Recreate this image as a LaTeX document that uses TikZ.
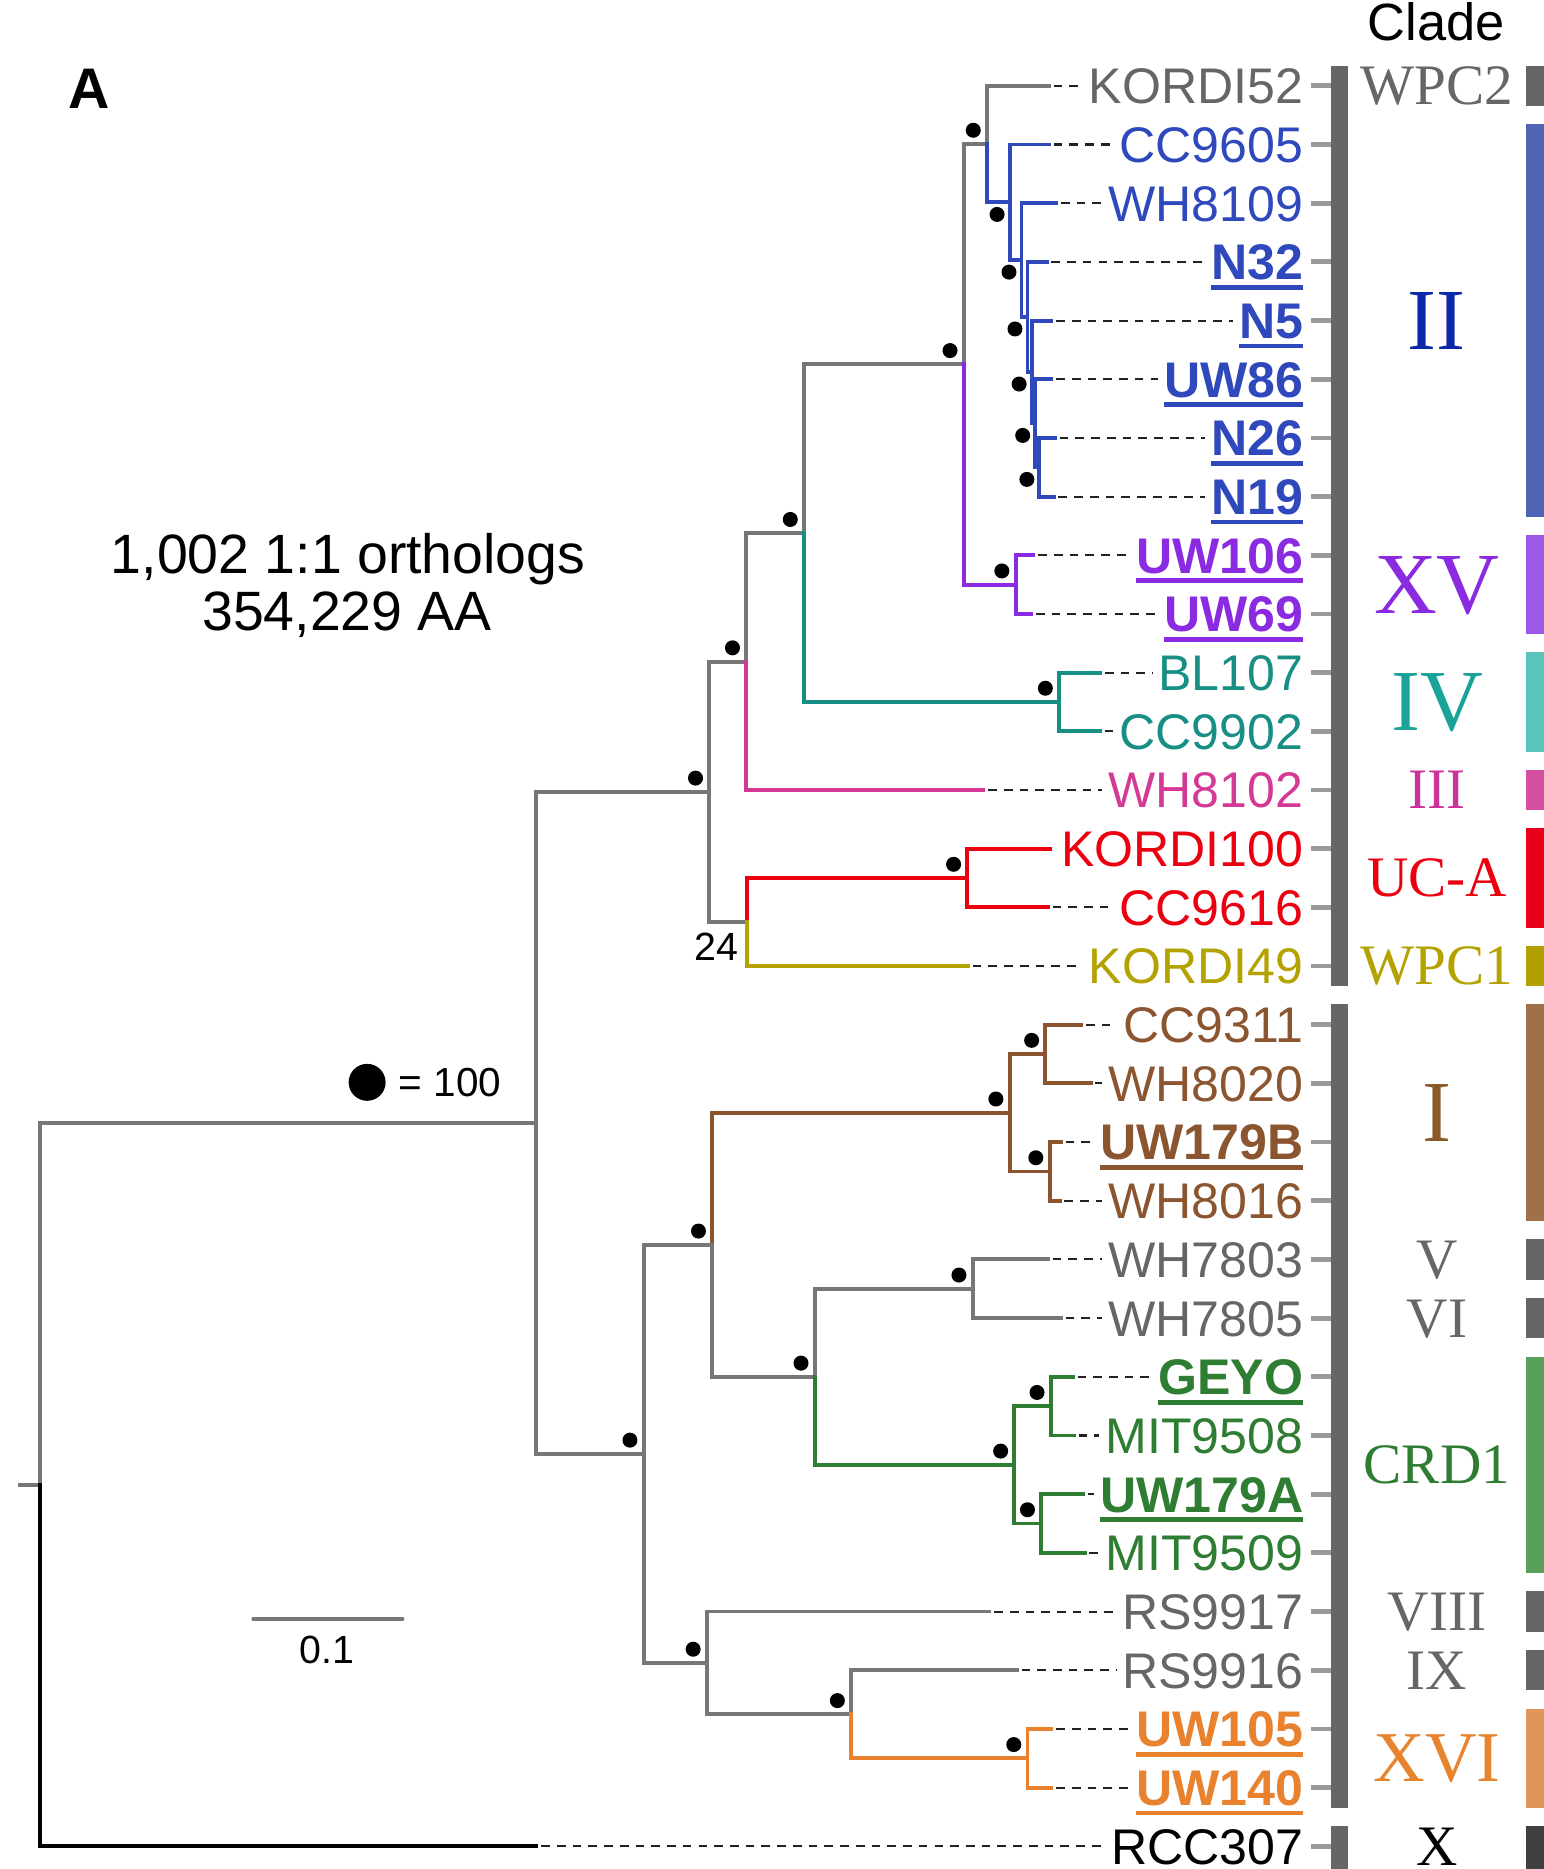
\documentclass[tikz,border=0pt]{standalone}
\usepackage{fontspec}
\setmainfont{Liberation Sans}
\newfontfamily\cladeserif{Liberation Serif}
\usetikzlibrary{calc}
\definecolor{cgrayb}{HTML}{777777}
\definecolor{cgrayt}{HTML}{666666}
\definecolor{cblue}{HTML}{2F49BD}
\definecolor{cpurple}{HTML}{8A2BE2}
\definecolor{cteal}{HTML}{178F85}
\definecolor{cmag}{HTML}{D43A95}
\definecolor{cred}{HTML}{EC0010}
\definecolor{colive}{HTML}{B4A200}
\definecolor{cbrown}{HTML}{8B5530}
\definecolor{cgreen}{HTML}{2E7D32}
\definecolor{corange}{HTML}{E8822E}
\definecolor{cII}{HTML}{0A28A8}
\definecolor{cIV}{HTML}{1AA399}
\definecolor{cIII}{HTML}{CC3399}
\definecolor{cI}{HTML}{8B5A2B}
\definecolor{cXVI}{HTML}{E8842F}
\definecolor{bgray}{HTML}{666666}
\definecolor{bII}{HTML}{5064B4}
\definecolor{bXV}{HTML}{9B59E5}
\definecolor{bIV}{HTML}{58C4BC}
\definecolor{bIII}{HTML}{D450A0}
\definecolor{bUCA}{HTML}{E8001A}
\definecolor{bWPC}{HTML}{B0A000}
\definecolor{bI}{HTML}{A0704A}
\definecolor{bCRD}{HTML}{5AA05A}
\definecolor{bXVI}{HTML}{E0965A}
\definecolor{bX}{HTML}{404040}
\definecolor{ctick}{HTML}{9A9A9A}
\definecolor{cdash}{HTML}{222222}
\begin{document}
\begin{tikzpicture}[x=1pt,y=-1pt,
  br/.style={line width=3.3pt, line cap=rect, line join=miter},
  dashline/.style={line width=1.7pt, cdash, dash pattern=on 7.3pt off 5.9pt, shorten <=4pt, shorten >=5pt},
  tickmark/.style={line width=4pt, ctick},
  leaflabel/.style={inner sep=0pt, anchor=base east, font=\fontsize{42}{42}\selectfont},
  boldleaf/.style={inner sep=0pt, anchor=base east, font=\fontsize{42}{42}\selectfont\bfseries},
  plain/.style={inner sep=0pt, anchor=base},
]
\fill[white] (0,0) rectangle (1295,1568);
\useasboundingbox (0,0) rectangle (1295,1568);

% main grey bars
\fill[bgray] (1117,55) rectangle (1131,827.5);
\fill[bgray] (1117,842.7) rectangle (1131,1516.7);
\fill[bgray] (1117,1531.9) rectangle (1131,1570);

% leaves
\foreach \nm/\ix/\ex/\tc/\bo/\da in {
 KORDI52/0/880/cgrayt/0/1, CC9605/1/880/cblue/0/1, WH8109/2/886/cblue/0/1,
 N32/3/878/cblue/1/1, N5/4/882/cblue/1/1, UW86/5/882/cblue/1/1,
 N26/6/885/cblue/1/1, N19/7/884/cblue/1/1, UW106/8/867/cpurple/1/1,
 UW69/9/865/cpurple/1/1, BL107/10/923/cteal/0/1, CC9902/11/923/cteal/0/1,
 WH8102/12/825/cmag/0/1, KORDI100/13/881/cred/0/0, CC9616/14/879/cred/0/1,
 KORDI49/15/812/colive/0/1, CC9311/16/907/cbrown/0/1, WH8020/17/915/cbrown/0/1,
 UW179B/18/890/cbrown/1/1, WH8016/19/889/cbrown/0/1, WH7803/20/879/cgrayt/0/1,
 WH7805/21/890/cgrayt/0/1, GEYO/22/900/cgreen/1/1, MIT9508/23/901/cgreen/0/1,
 UW179A/24/909/cgreen/1/1, MIT9509/25/910/cgreen/0/1, RS9917/26/830/cgrayt/0/1,
 RS9916/27/853/cgrayt/0/1, UW105/28/882/corange/1/1, UW140/29/882/corange/1/1,
 RCC307/30/450/black/0/1}{
  \pgfmathsetmacro\yy{72+49.23*\ix}
  \coordinate (e\nm) at (\ex,\yy);
  \ifnum\bo=1
    \node[boldleaf, text=\tc] (l\nm) at (1093.5,\yy+15) {\nm};
    \draw[line width=4pt, \tc] ([yshift=-6.3pt]l\nm.base west) -- ([yshift=-6.3pt]l\nm.base east);
  \else
    \node[leaflabel, text=\tc] (l\nm) at (1093.5,\yy+15) {\nm};
  \fi
  \draw[tickmark] (1100,\yy) -- (1117,\yy);
  \ifnum\da=1 \draw[dashline] (e\nm) -- (l\nm.west |- e\nm); \fi
}

% clade labels and bars
\foreach \lab/\fa/\la/\tc/\bc/\sz in {
 WPC2/0/0/cgrayt/bgray/48, II/1/7/cII/bII/73, XV/8/9/cpurple/bXV/73,
 IV/10/11/cIV/bIV/73, III/12/12/cIII/bIII/48, UC-A/13/14/cred/bUCA/48,
 WPC1/15/15/colive/bWPC/48, I/16/19/cI/bI/73, V/20/20/cgrayt/bgray/48,
 VI/21/21/cgrayt/bgray/48, CRD1/22/25/cgreen/bCRD/48, VIII/26/26/cgrayt/bgray/48,
 IX/27/27/cgrayt/bgray/48, XVI/28/29/cXVI/bXVI/60, X/30/30/black/bX/48}{
  \pgfmathsetmacro\ya{72+49.23*\fa-17}
  \pgfmathsetmacro\yb{72+49.23*\la+17}
  \pgfmathsetmacro\ym{72+49.23*(\fa+\la)/2+0.331*\sz}
  \node[plain, text=\tc, font=\cladeserif\fontsize{\sz}{\sz}\selectfont] (cl\fa) at (1205.5,\ym) {\lab};
  \fill[\bc] (1280,\ya) rectangle (1296,\yb);
}
\fill[bX] (1280,1560) rectangle (1296,1570);

% internal nodes
\coordinate (nO) at (872,392.0);
\coordinate (nN) at (868.5,355.1);
\coordinate (nM) at (865.5,312.0);
\coordinate (nL) at (862,265.8);
\coordinate (nK) at (857,218.1);
\coordinate (nJ) at (847,169.7);
\coordinate (nH) at (828,120.8);
\coordinate (nXV) at (852,490.5);
\coordinate (nG) at (808.5,305.6);
\coordinate (nIV) at (888.5,588.9);
\coordinate (nF) at (674.5,447.3);
\coordinate (nD) at (626,555.0);
\coordinate (nUCA) at (811.5,736.6);
\coordinate (nE) at (627,773.5);
\coordinate (nB) at (595,664.3);
\coordinate (nT) at (877,884.3);
\coordinate (nU) at (880.5,982.8);
\coordinate (nR) at (847,933.5);
\coordinate (nV) at (816,1081.2);
\coordinate (nX) at (881.5,1179.7);
\coordinate (nY) at (873.5,1278.1);
\coordinate (nW) at (851,1228.9);
\coordinate (nS) at (683.5,1155.1);
\coordinate (nP) at (597.5,1044.3);
\coordinate (nXVI) at (862,1475.1);
\coordinate (nZ) at (714,1438.2);
\coordinate (nQ) at (593,1395.1);
\coordinate (nC) at (540,1219.7);
\coordinate (nA) at (449.5,942.0);
\coordinate (root) at (33.7,1245.5);
\coordinate (stub) at (16.7,1245.5);

% branches
\draw[br,cgrayb] (stub) -- (root);
\draw[br,cgrayb] (root) |- (nA);
\draw[br,black] (root) |- (eRCC307);
\draw[br,cgrayb] (nA) |- (nB);
\draw[br,cgrayb] (nA) |- (nC);
\draw[br,cgrayb] (nB) |- (nD);
\draw[br,cgrayb] (nB) |- (nE);
\draw[br,cgrayb] (nD) |- (nF);
\draw[br,cmag] (nD) |- (eWH8102);
\draw[br,cgrayb] (nF) |- (nG);
\draw[br,cteal] (nF) |- (nIV);
\draw[br,cteal] (nIV) |- (eBL107);
\draw[br,cteal] (nIV) |- (eCC9902);
\draw[br,cgrayb] (nG) |- (nH);
\draw[br,cpurple] (nG) |- (nXV);
\draw[br,cpurple] (nXV) |- (eUW106);
\draw[br,cpurple] (nXV) |- (eUW69);
\draw[br,cgrayb] (nH) |- (eKORDI52);
\draw[br,cblue] (nH) |- (nJ);
\draw[br,cblue] (nJ) |- (eCC9605);
\draw[br,cblue] (nJ) |- (nK);
\draw[br,cblue] (nK) |- (eWH8109);
\draw[br,cblue] (nK) |- (nL);
\draw[br,cblue] (nL) |- (eN32);
\draw[br,cblue] (nL) |- (nM);
\draw[br,cblue] (nM) |- (eN5);
\draw[br,cblue] (nM) |- (nN);
\draw[br,cblue] (nN) |- (eUW86);
\draw[br,cblue] (nN) |- (nO);
\draw[br,cblue] (nO) |- (eN26);
\draw[br,cblue] (nO) |- (eN19);
\draw[br,cred] (nE) |- (nUCA);
\draw[br,colive] (nE) |- (eKORDI49);
\draw[br,cred] (nUCA) |- (eKORDI100);
\draw[br,cred] (nUCA) |- (eCC9616);
\draw[br,cgrayb] (nC) |- (nP);
\draw[br,cgrayb] (nC) |- (nQ);
\draw[br,cbrown] (nP) |- (nR);
\draw[br,cgrayb] (nP) |- (nS);
\draw[br,cbrown] (nR) |- (nT);
\draw[br,cbrown] (nR) |- (nU);
\draw[br,cbrown] (nT) |- (eCC9311);
\draw[br,cbrown] (nT) |- (eWH8020);
\draw[br,cbrown] (nU) |- (eUW179B);
\draw[br,cbrown] (nU) |- (eWH8016);
\draw[br,cgrayb] (nS) |- (nV);
\draw[br,cgreen] (nS) |- (nW);
\draw[br,cgrayb] (nV) |- (eWH7803);
\draw[br,cgrayb] (nV) |- (eWH7805);
\draw[br,cgreen] (nW) |- (nX);
\draw[br,cgreen] (nW) |- (nY);
\draw[br,cgreen] (nX) |- (eGEYO);
\draw[br,cgreen] (nX) |- (eMIT9508);
\draw[br,cgreen] (nY) |- (eUW179A);
\draw[br,cgreen] (nY) |- (eMIT9509);
\draw[br,cgrayb] (nQ) |- (eRS9917);
\draw[br,cgrayb] (nQ) |- (nZ);
\draw[br,cgrayb] (nZ) |- (eRS9916);
\draw[br,corange] (nZ) |- (nXVI);
\draw[br,corange] (nXVI) |- (eUW105);
\draw[br,corange] (nXVI) |- (eUW140);

% bootstrap dots
\foreach \n in {nH,nG,nF,nD,nB,nIV,nXV,nUCA,nC,nP,nQ,nR,nT,nU,nS,nV,nW,nX,nY,nZ,nXVI}
  \fill ($(\n)+(-11.5,-11.5)$) circle (6.3pt);
\foreach \n in {nJ,nK,nL,nM,nN,nO}
  \fill ($(\n)+(-10.5,10.2)$) circle (6.3pt);

% texts
\node[plain, font=\fontsize{33}{33}\selectfont] (bs24) at (600.8,806) {24};
\node[plain, font=\fontsize{44}{44}\selectfont] (cladehead) at (1205,34) {Clade};
\node[plain, font=\fontsize{48}{48}\selectfont\bfseries] (panel) at (74.8,91.4) {A};
\node[plain, font=\fontsize{46.5}{46.5}\selectfont] (ortho1) at (292,481.5) {1,002 1:1 orthologs};
\node[plain, font=\fontsize{46.5}{46.5}\selectfont] (ortho2) at (291.2,529.1) {354,229 AA};
\fill (308,908) circle (15.5pt);
\node[inner sep=0pt, anchor=base west, font=\fontsize{34}{34}\selectfont] (legend) at (334.5,920.3) {= 100};
\coordinate (sbl) at (212.5,1358.2);
\coordinate (sbr) at (337.7,1358.2);
\draw[line width=3.3pt, cgrayb, line cap=round] (sbl) -- (sbr);
\node[plain, font=\fontsize{33}{33}\selectfont] (sblabel) at (274.4,1395.8) {0.1};
\end{tikzpicture}
\end{document}
